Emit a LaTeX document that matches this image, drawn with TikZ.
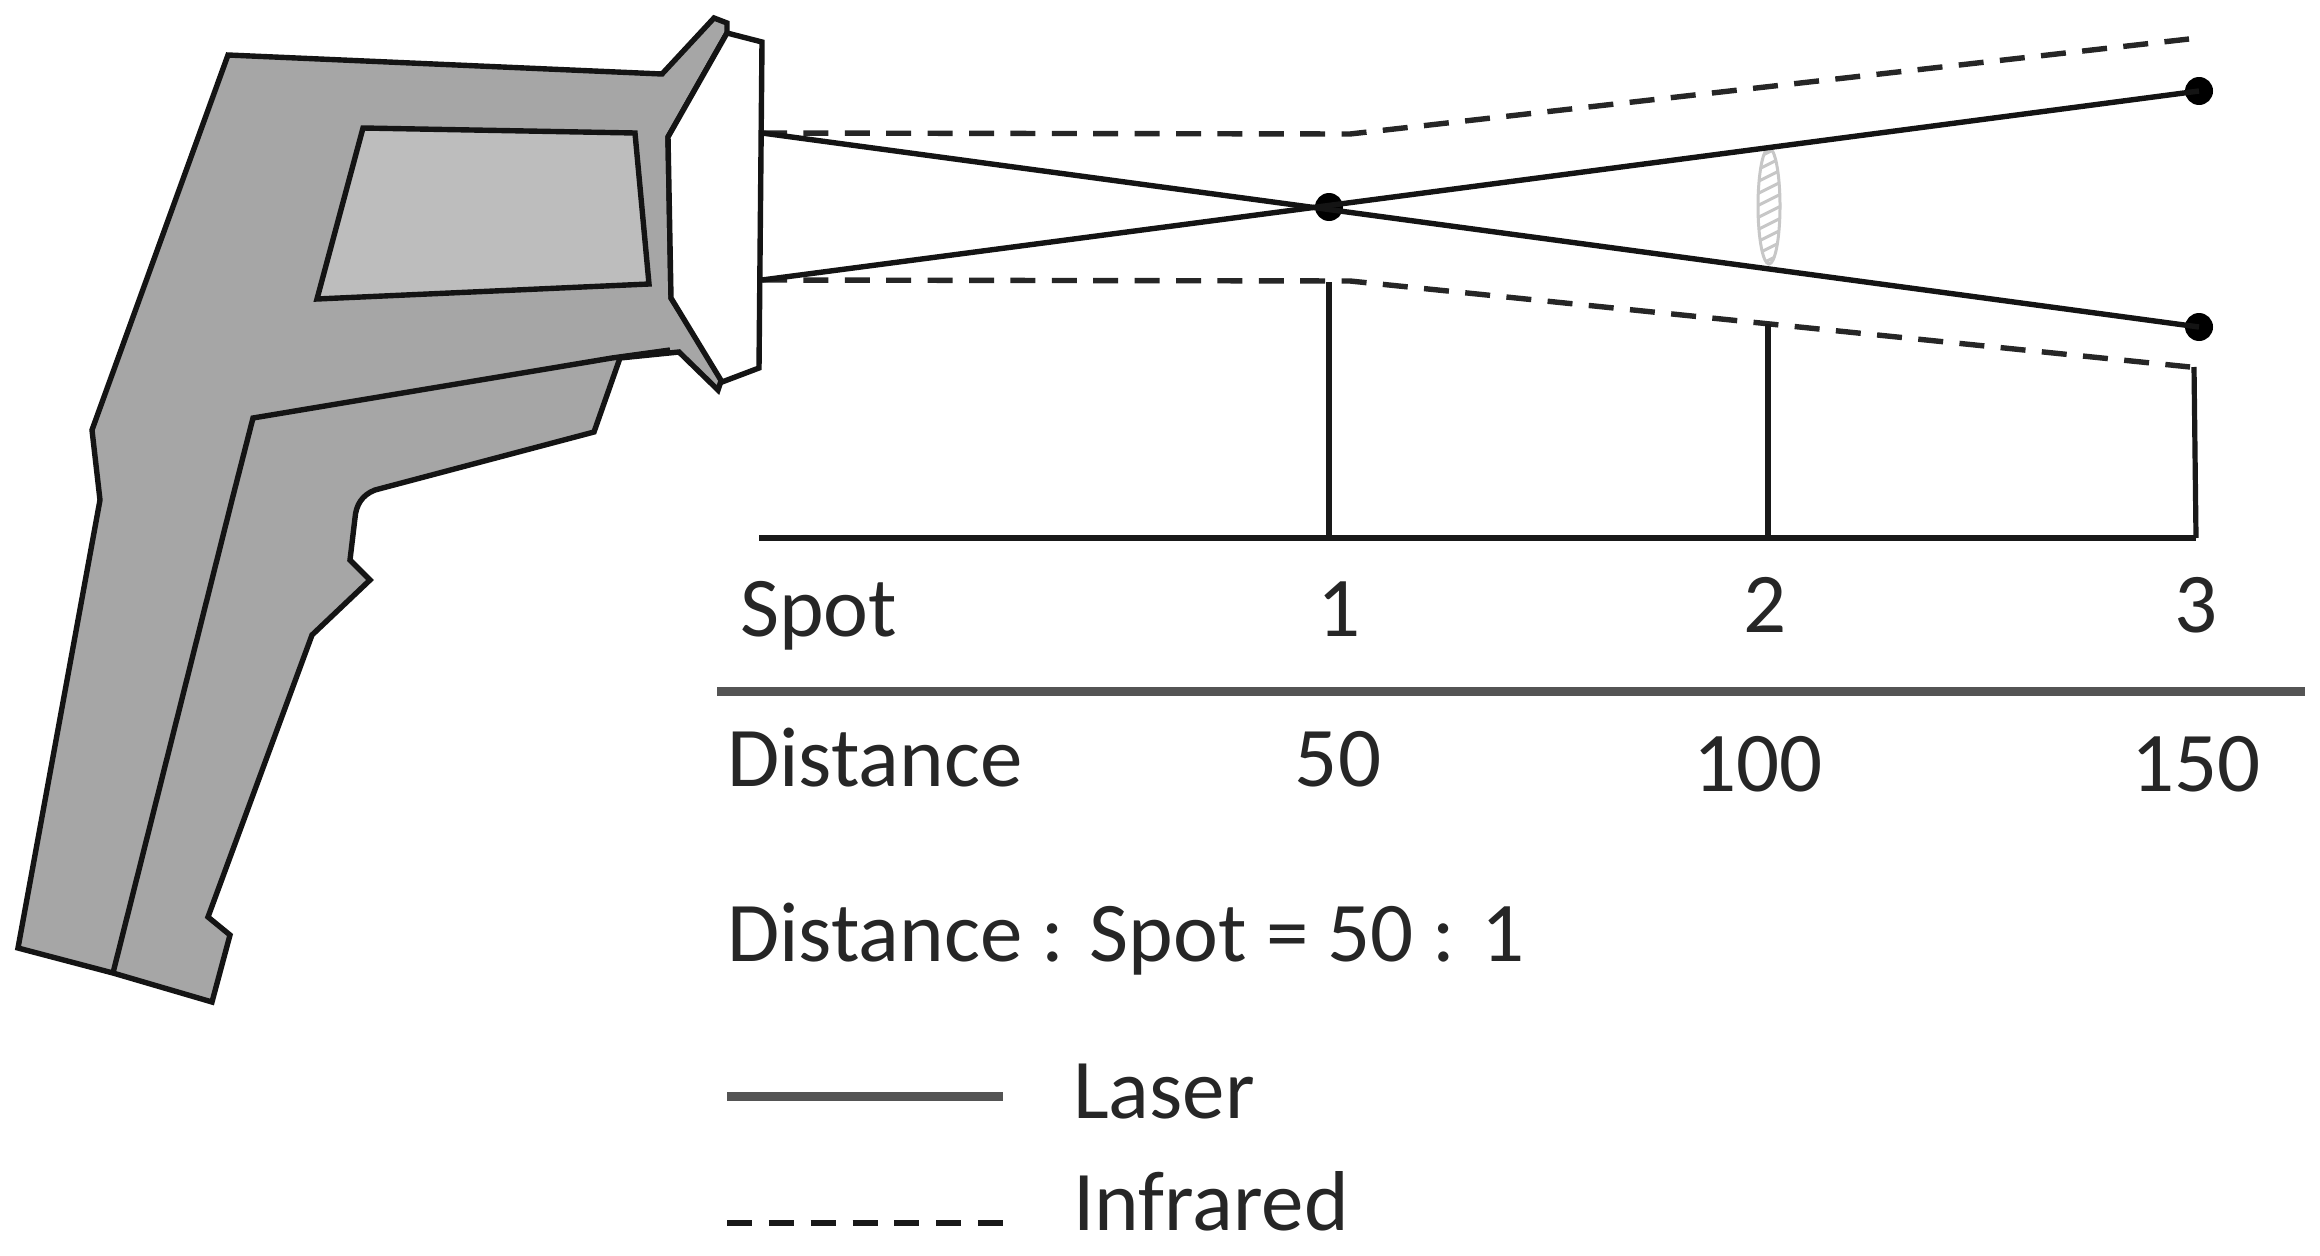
\documentclass[tikz,border=0pt]{standalone}
\usepackage{fontspec}
\setmainfont{Carlito}
\begin{document}
\begin{tikzpicture}[x=1pt,y=-1pt,
  outl/.style={draw=black!92,line width=5.4pt,line join=miter},
  ray/.style={draw=black!92,line width=5.4pt},
  irray/.style={draw=black!85,line width=5.4pt,dash pattern=on 25pt off 16.4pt},
  tick/.style={draw=black!90,line width=5.2pt},
  spotdot/.style={circle,fill=black,inner sep=0pt,minimum size=28pt},
  lab/.style={font=\fontsize{85pt}{85pt}\selectfont,text=black!85,inner sep=0pt,anchor=base west},
  labc/.style={font=\fontsize{85pt}{85pt}\selectfont,text=black!85,inner sep=0pt,anchor=base}]
\useasboundingbox (0,0) rectangle (2320,1255);
\fill[white] (0,0) rectangle (2320,1255);
% gun body
\path[outl,fill=black!35] (228,55) -- (662,74) -- (714,18) -- (727,23) -- (727,33) -- (668,137) -- (671,298) -- (722,378) -- (718,390) -- (679,352) -- (620,358) -- (594,432) -- (375,490) .. controls (362,495) and (356,505) .. (355,518) -- (350,560) -- (370,580) -- (312,635) -- (208,917) -- (230,935) -- (212,1002) -- (113,973) -- (18,948) -- (100,500) -- (92,430) -- cycle;
\draw[outl] (670,350) -- (612,358) -- (253,418) -- (232,500) -- (113,973);
\path[outl,fill=black!26] (363,128) -- (635,133) -- (649,284) -- (317,299) -- cycle;
\path[outl,fill=white] (727,33) -- (762,42) -- (759,368) -- (722,382) -- (671,298) -- (668,137) -- cycle;
% coordinates
\coordinate (a1) at (762,133);
\coordinate (a2) at (762,280);
\coordinate (ir1) at (1350,134);
\coordinate (ir2) at (2189,39);
\coordinate (ir3) at (1350,281);
\coordinate (ir4) at (2190,367);
\coordinate (b0) at (759,538);
\coordinate (b1) at (1329,538);
\coordinate (b2) at (1768,538);
\coordinate (b3) at (2196,538);
\coordinate (t1) at (1329,282);
\coordinate (t2) at (1768,324);
\coordinate (t3) at (2194,367);
\node[spotdot] (d1) at (1329,207) {};
\node[spotdot] (d2) at (2199,91) {};
\node[spotdot] (d3) at (2199,327) {};
% lens
\begin{scope}
\clip (1769,206) ellipse (12pt and 58pt);
\foreach \yy in {140,152,...,272} {
  \draw[black!22,line width=3pt] (1755,\yy+7) -- (1783,\yy-7);
}
\end{scope}
\draw[black!22,line width=3pt] (1769,206) ellipse (11pt and 58pt);
% rays
\draw[irray] (a1) -- (ir1) -- (ir2);
\draw[irray] (a2) -- (ir3) -- (ir4);
\draw[ray] (a1) -- (d3.center);
\draw[ray] (a2) -- (d2.center);
% ticks
\draw[tick] (b0) -- (b3);
\draw[tick] (t1) -- (b1);
\draw[tick] (t2) -- (b2);
\draw[tick] (t3) -- (b3);
% table
\coordinate (r1) at (717,691);
\coordinate (r2) at (2305,691);
\draw[black!67,line width=9pt] (r1) -- (r2);
\node[lab] (spot) at (740,636) {Spot};
\node[labc] (n1) at (1339,636) {1};
\node[labc] (n2) at (1765,632) {2};
\node[labc] (n3) at (2196,632) {3};
\node[lab] (dist) at (727,786) {Distance};
\node[labc] (v1) at (1338,786) {50};
\node[labc] (v2) at (1758,791) {100};
\node[labc] (v3) at (2196,791) {150};
\node[lab] (ratio) at (727,961) {Distance : Spot = 50 : 1};
\coordinate (l1) at (727,1096);
\coordinate (l2) at (1003,1096);
\draw[black!67,line width=9pt] (l1) -- (l2);
\node[lab] (laser) at (1073,1118) {Laser};
\coordinate (l3) at (727,1223);
\coordinate (l4) at (1003,1223);
\draw[black!90,line width=5.4pt,dash pattern=on 25pt off 16.83pt] (l3) -- (l4);
\node[lab] (infra) at (1073,1230) {Infrared};
\end{tikzpicture}
\end{document}
